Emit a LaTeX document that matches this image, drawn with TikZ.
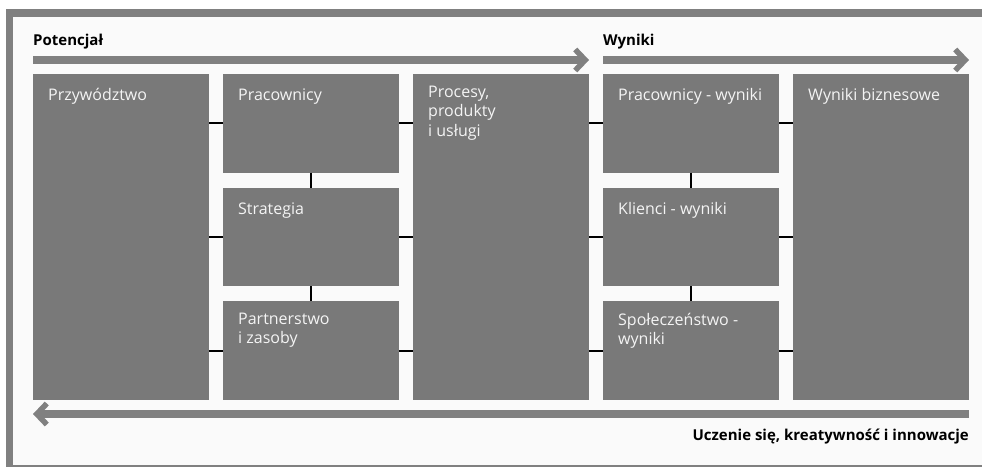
\documentclass[tikz,border=0pt]{standalone}
\usepackage{fontspec}
\setmainfont{Open Sans}
\usetikzlibrary{positioning}
\usetikzlibrary{arrows.meta}
\definecolor{boxgray}{HTML}{797979}
\definecolor{framegray}{HTML}{808080}
\definecolor{paper}{HTML}{FAFAFA}
\definecolor{boxtext}{HTML}{F4F4F4}
\tikzset{
  block/.style={rectangle,fill=boxgray,minimum width=176pt,inner sep=0pt,outer sep=0pt},
  tall/.style={block,minimum height=326pt},
  small/.style={block,minimum height=98.67pt},
  caption/.style={anchor=north west,align=left,inner sep=0pt,text=boxtext,
    xshift=15pt,yshift=-11.5pt,font=\fontsize{16}{19.5}\selectfont,
    execute at begin node={\rule{0pt}{15pt}}},
  heading/.style={inner sep=0pt,font=\bfseries\fontsize{15}{18}\selectfont},
  link/.style={black,line width=2pt},
  flow/.style={draw=framegray,line width=8pt,
    -{Straight Barb[length=10pt,width=21pt,line width=5.5pt]}}
}
\begin{document}
\begin{tikzpicture}[x=1pt,y=-1pt]
  \useasboundingbox (0,0) rectangle (982,467);
  \fill[framegray] (6,9) rectangle (982,467);
  \fill[paper] (13,17) rectangle (982,465);
  % potencjal
  \node (lead) [tall,anchor=north west] at (33,74) {};
  \node (staff) [small,right=14pt of lead.north east,anchor=north west] {};
  \node (strat) [small,below=15pt of staff] {};
  \node (partner) [small,below=15pt of strat] {};
  \node (proc) [tall,right=14pt of staff.north east,anchor=north west] {};
  % wyniki
  \node (staffres) [small,right=14pt of proc.north east,anchor=north west] {};
  \node (clientres) [small,below=15pt of staffres] {};
  \node (socres) [small,below=15pt of clientres] {};
  \node (biz) [tall,right=14pt of staffres.north east,anchor=north west] {};
  \node (leadtxt) [caption] at (lead.north west) {Przywództwo};
  \node (stafftxt) [caption] at (staff.north west) {Pracownicy};
  \node (strattxt) [caption] at (strat.north west) {Strategia};
  \node (partnertxt) [caption] at (partner.north west) {Partnerstwo\\i zasoby};
  \node (proctxt) [caption] at (proc.north west) {Procesy,\\produkty\\i usługi};
  \node (staffrestxt) [caption] at (staffres.north west) {Pracownicy - wyniki};
  \node (clientrestxt) [caption] at (clientres.north west) {Klienci - wyniki};
  \node (socrestxt) [caption] at (socres.north west) {Społeczeństwo -\\wyniki};
  \node (biztxt) [caption] at (biz.north west) {Wyniki biznesowe};
  % laczniki
  \draw[link] (staff.south) -- (strat.north);
  \draw[link] (strat.south) -- (partner.north);
  \draw[link] (staffres.south) -- (clientres.north);
  \draw[link] (clientres.south) -- (socres.north);
  \draw[link] (staff.west) -- (staff.west -| lead.east);
  \draw[link] (strat.west) -- (strat.west -| lead.east);
  \draw[link] (partner.west) -- (partner.west -| lead.east);
  \draw[link] (staff.east) -- (staff.east -| proc.west);
  \draw[link] (strat.east) -- (strat.east -| proc.west);
  \draw[link] (partner.east) -- (partner.east -| proc.west);
  \draw[link] (staffres.west) -- (staffres.west -| proc.east);
  \draw[link] (clientres.west) -- (clientres.west -| proc.east);
  \draw[link] (socres.west) -- (socres.west -| proc.east);
  \draw[link] (staffres.east) -- (staffres.east -| biz.west);
  \draw[link] (clientres.east) -- (clientres.east -| biz.west);
  \draw[link] (socres.east) -- (socres.east -| biz.west);
  % strzalki
  \draw[flow] ([yshift=14pt]lead.north west) -- ([yshift=14pt]proc.north east);
  \draw[flow] ([yshift=14pt]staffres.north west) -- ([yshift=14pt]biz.north east);
  \draw[flow] ([yshift=-14pt]biz.south east) -- ([yshift=-14pt]lead.south west);
  \node (potl) [heading,anchor=base west] at ([yshift=29pt]lead.north west) {Potencjał};
  \node (res) [heading,anchor=base west] at ([yshift=29pt]staffres.north west) {Wyniki};
  \node (learn) [heading,anchor=base east] at ([yshift=-40pt]biz.south east)
    {Uczenie się, kreatywność i innowacje};
\end{tikzpicture}
\end{document}
